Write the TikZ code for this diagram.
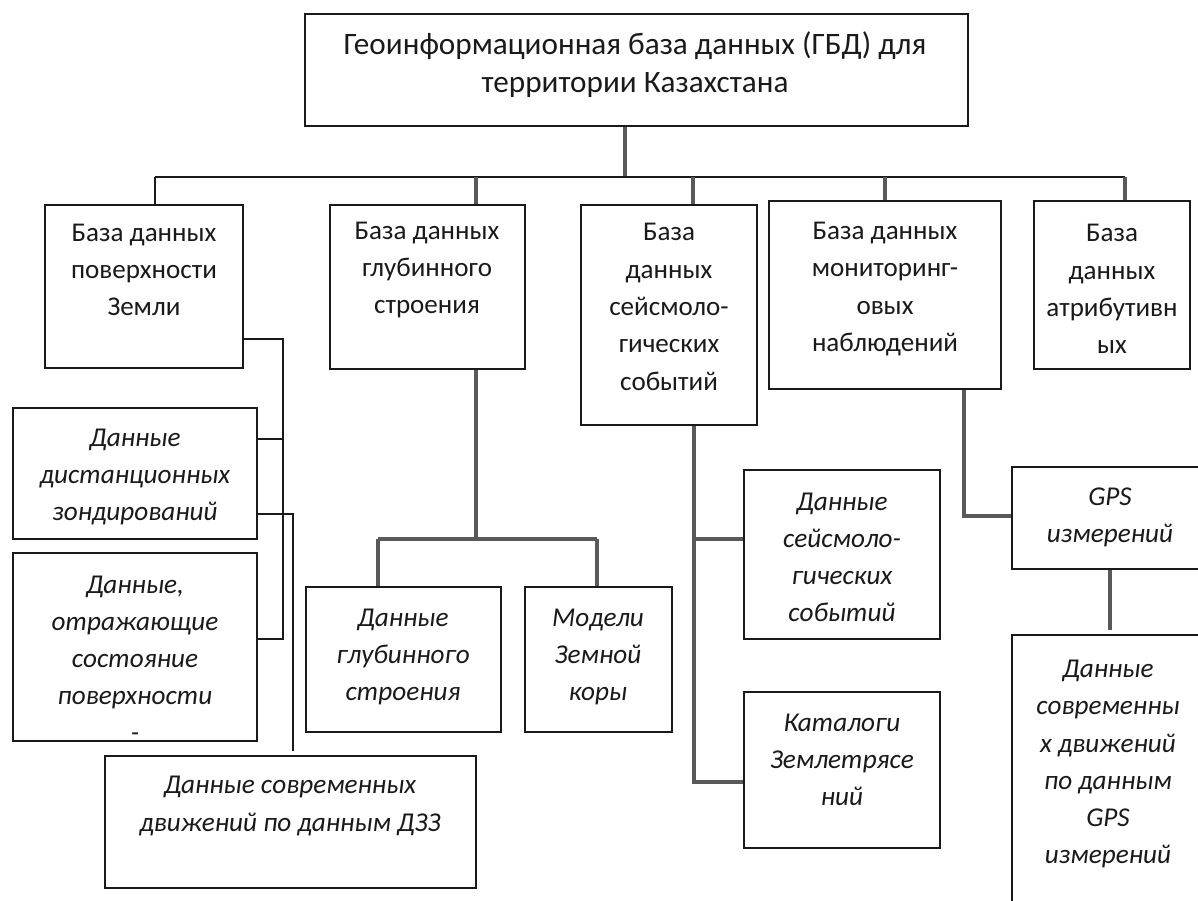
\documentclass[tikz,border=0pt]{standalone}
\usepackage{fontspec}
\setmainfont{Carlito}
\usetikzlibrary{fit}
\definecolor{ink}{HTML}{1A1A1A}
\definecolor{gline}{HTML}{595959}
\begin{document}
\begin{tikzpicture}[x=0.75pt,y=-0.75pt,
  box/.style={draw=ink,line width=1.6pt,inner sep=0pt,rectangle},
  up/.style={align=center,inner sep=0pt,text=ink,font=\fontsize{20.3}{28}\selectfont},
  topt/.style={align=center,inner sep=0pt,text=ink,font=\fontsize{23.4}{28.5}\selectfont},
  it/.style={align=center,inner sep=0pt,text=ink,font=\fontsize{20.4}{27.8}\selectfont\itshape},
  kline/.style={draw=ink,line width=1.6pt},
  gl/.style={draw=gline,line width=2.5pt}]
\useasboundingbox (0,0) rectangle (1198,900);
\fill[white] (0,0) rectangle (1198,900);
\clip (0,0) rectangle (1198,900);

% boxes
\node[box,fit={(305,14) (968,126)}] (top) {};
\node[box,fit={(45,205) (243,368)}] (b1) {};
\node[box,fit={(330,205) (525,369)}] (b2) {};
\node[box,fit={(581,205) (757,425)}] (b3) {};
\node[box,fit={(769,201) (1001,389)}] (b4) {};
\node[box,fit={(1034,201) (1190,369)}] (b5) {};
\node[box,fit={(13,408) (257,539)}] (l1) {};
\node[box,fit={(13,553) (257,741)}] (l2) {};
\node[box,fit={(105,756) (476,888)}] (l3) {};
\node[box,fit={(306,587) (501,732)}] (m1) {};
\node[box,fit={(525,587) (672,732)}] (m2) {};
\node[box,fit={(744,470) (940,639)}] (s1) {};
\node[box,fit={(744,692) (940,848)}] (s2) {};
\node[box,fit={(1012,467) (1215,569)}] (g1) {};
\node[box,fit={(1012,635) (1215,915)}] (g2) {};

% texts
\node[topt] (ttop) at (635,65) {Геоинформационная база данных (ГБД) для\\территории Казахстана};
\node[up] (tb1) at (144,270) {База данных\\поверхности\\Земли};
\node[up] (tb2) at (427,270) {База данных\\глубинного\\строения};
\node[up] (tb3) at (669,307) {База\\данных\\сейсмоло-\\гических\\событий};
\node[up] (tb4) at (885,289) {База данных\\мониторинг-\\овых\\наблюдений};
\node[up] (tb5) at (1112,289) {База\\данных\\атрибутивн\\ых};
\node[it] (tl1) at (135,477) {Данные\\дистанционных\\зондирований};
\node[it] (tl2) at (135,659) {Данные,\\отражающие\\состояние\\поверхности\\-};
\node[it] (tl3) at (290,806) {Данные современных\\движений по данным ДЗЗ};
\node[it] (tm1) at (403,657) {Данные\\глубинного\\строения};
\node[it] (tm2) at (598,657) {Модели\\Земной\\коры};
\node[it] (ts1) at (842,557) {Данные\\сейсмоло-\\гических\\событий};
\node[it] (ts2) at (842,760) {Каталоги\\Землетрясе\\ний};
\node[it] (tg1) at (1110,517) {GPS\\измерений};
\node[it] (tg2) at (1108,764) {Данные\\современны\\х движений\\по данным\\GPS\\измерений};

% top tree
\coordinate (hub) at (625,177);
\coordinate (d1) at (155,177);
\coordinate (d2) at (476,177);
\coordinate (d3) at (693,177);
\coordinate (d4) at (885,177);
\coordinate (d5) at (1125,177);
\draw[gl] (top.south -| hub) -- (hub);
\draw[kline] (d1) -- (d5);
\draw[kline] (d1) -- (d1 |- b1.north);
\draw[gl] (d2) -- (d2 |- b2.north);
\draw[gl] (d3) -- (d3 |- b3.north);
\draw[gl] (d4) -- (d4 |- b4.north);
\draw[gl] (d5) -- (d5 |- b5.north);

% left cluster
\coordinate (e1) at (283,339);
\coordinate (e2) at (283,639);
\draw[kline] (b1.east |- e1) -- (e1) -- (e2) -- (l2.east |- e2);
\draw[kline] (l1.east |- 0,439) -- (283,439);
\coordinate (f1) at (293,514);
\coordinate (f2) at (293,751);
\draw[kline] (l1.east |- f1) -- (f1) -- (f2);

% middle cluster
\coordinate (h0) at (476,539);
\coordinate (h1) at (378,539);
\coordinate (h2) at (597,539);
\draw[gl] (b2.south -| h0) -- (h0);
\draw[gl] (h1) -- (h2);
\draw[gl] (h1) -- (h1 |- m1.north);
\draw[gl] (h2) -- (h2 |- m2.north);

% seismic cluster
\coordinate (k0) at (694,539);
\coordinate (k1) at (694,782);
\draw[gl] (b3.south -| k0) -- (k1) -- (s2.west |- k1);
\draw[gl] (k0) -- (s1.west |- k0);

% GPS cluster
\coordinate (p0) at (964,516);
\draw[gl] (b4.south -| p0) -- (p0) -- (g1.west |- p0);
\coordinate (q0) at (1110,571);
\draw[gl] (g1.south -| q0) -- (q0 |- 0,630);
\end{tikzpicture}
\end{document}
